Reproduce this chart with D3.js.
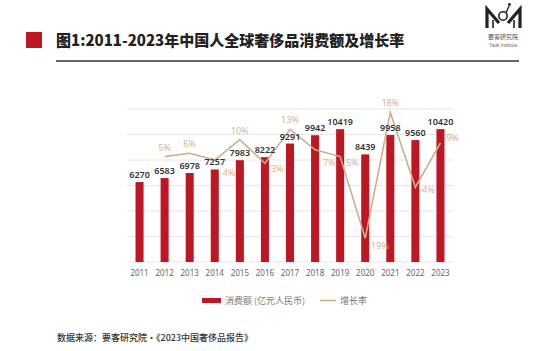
<!DOCTYPE html>
<html>
<head>
<meta charset="utf-8">
<script src="https://cdn.jsdelivr.net/npm/d3@7"></script>
<style>
  body { margin: 0; background: #fff; }
  svg { display: block; font-family: "Noto Sans CJK SC", "Noto Sans", sans-serif; }
</style>
</head>
<body>
<div id="chart"></div>
<script>
// Data
const years = ["2011", "2012", "2013", "2014", "2015", "2016", "2017", "2018", "2019", "2020", "2021", "2022", "2023"];
const spending = [6270, 6583, 6978, 7257, 7983, 8222, 9291, 9942, 10419, 8439, 9958, 9560, 10420];
const growth = [null, 5, 6, 4, 10, 3, 13, 7, 5, -19, 18, -4, 9];
const growthLabels = ["", "5%", "6%", "4%", "10%", "3%", "13%", "7%", "5%", "-19%", "18%", "-4%", "9%"];
const yTicks = [0, 2000, 4000, 6000, 8000, 10000, 12000];

// where each growth label sits relative to its point
const labelPlace = [null, "top", "top", "below", "top", "right", "top", "below", "right", "dip", "top", "side", "up"];

const barColor = "#be1622";
const lineColor = "#cfae8c";

const svg = d3.select("#chart")
  .append("svg")
  .attr("width", 550)
  .attr("height", 351);

// Title block
svg.append("rect")
  .attr("x", 26).attr("y", 32)
  .attr("width", 16).attr("height", 16)
  .attr("fill", barColor);

svg.append("text")
  .attr("x", 56).attr("y", 46)
  .attr("font-family", "'Noto Sans CJK SC', serif")
  .attr("font-size", "15px")
  .attr("font-weight", 900)
  .attr("fill", "#222")
  .text("图1:2011-2023年中国人全球奢侈品消费额及增长率");

svg.append("line")
  .attr("x1", 56).attr("x2", 519)
  .attr("y1", 61).attr("y2", 61)
  .attr("stroke", "#666")
  .attr("stroke-width", 2);

// Logo
const logo = svg.append("g").attr("fill", "none").attr("stroke", "#222");
logo.append("path")
  .attr("d", "M487,28 L487,9 L499,23 M520,28 L520,9 L508,23")
  .attr("stroke-width", 3.2)
  .attr("stroke-linejoin", "miter");
logo.append("path")
  .attr("d", "M493,28 L493,20 M514,28 L514,20")
  .attr("stroke-width", 1.6);
logo.append("circle")
  .attr("cx", 503).attr("cy", 16).attr("r", 4.2)
  .attr("stroke-width", 1.6);
logo.append("path")
  .attr("d", "M506,13 L509,6")
  .attr("stroke-width", 1.4);
logo.append("circle")
  .attr("cx", 509.5).attr("cy", 4.5).attr("r", 1.4)
  .attr("fill", "#222").attr("stroke", "none");
svg.append("text")
  .attr("x", 503).attr("y", 39)
  .attr("text-anchor", "middle")
  .attr("font-size", "6px")
  .attr("fill", "#555")
  .text("要客研究院");
svg.append("text")
  .attr("x", 503).attr("y", 47)
  .attr("text-anchor", "middle")
  .attr("font-size", "4.8px")
  .attr("font-family", "'Liberation Sans', sans-serif")
  .attr("fill", "#666")
  .text("Yaok Institute");

// Scales
const x = d3.scaleBand()
  .domain(years)
  .range([127, 453])
  .paddingInner(0.68)
  .paddingOuter(0.34);

const y = d3.scaleLinear()
  .domain([0, 12000])
  .range([262, 109]);

const y2 = d3.scaleLinear()
  .domain([-26, 19])
  .range([262, 109]);

// Gridlines
svg.append("g")
  .selectAll("line")
  .data(yTicks)
  .enter()
  .append("line")
  .attr("x1", 127).attr("x2", 453)
  .attr("y1", d => y(d)).attr("y2", d => y(d))
  .attr("stroke", "#e6e6e6")
  .attr("stroke-width", 1);

// X axis
const xAxis = svg.append("g")
  .attr("transform", "translate(0,262)")
  .call(d3.axisBottom(x).tickSize(0).tickPadding(8));
xAxis.select(".domain").remove();
xAxis.selectAll("text")
  .attr("font-family", "'Noto Sans', sans-serif")
  .attr("font-size", "8px")
  .attr("fill", "#666");

// Bars
svg.selectAll(".bar")
  .data(spending)
  .enter()
  .append("rect")
  .attr("class", "bar")
  .attr("x", (d, i) => x(years[i]))
  .attr("y", d => y(d))
  .attr("width", x.bandwidth())
  .attr("height", d => y(0) - y(d))
  .attr("fill", barColor);

// Growth line
const linePts = growth.map((g, i) => ({ year: years[i], g: g, label: growthLabels[i], place: labelPlace[i] }))
  .filter(d => d.g !== null);

const line = d3.line()
  .x(d => x(d.year) + x.bandwidth() / 2)
  .y(d => y2(d.g));

svg.append("path")
  .datum(linePts)
  .attr("d", line)
  .attr("fill", "none")
  .attr("stroke", lineColor)
  .attr("stroke-width", 1.6);

// Bar value labels
svg.selectAll(".val")
  .data(spending)
  .enter()
  .append("text")
  .attr("class", "val")
  .attr("x", (d, i) => x(years[i]) + x.bandwidth() / 2)
  .attr("y", d => y(d) - 4)
  .attr("text-anchor", "middle")
  .attr("font-family", "'Noto Sans', sans-serif")
  .attr("font-size", "9px")
  .attr("font-weight", 600)
  .attr("fill", "#333")
  .text(d => d);

// Growth labels
const off = {
  top: [0, -6, "middle"],
  below: [8, 16, "start"],
  right: [6, 9, "start"],
  dip: [3, 11, "start"],
  side: [4, 6, "start"],
  up: [6, -2, "start"]
};
svg.selectAll(".pct")
  .data(linePts)
  .enter()
  .append("text")
  .attr("class", "pct")
  .attr("x", d => x(d.year) + x.bandwidth() / 2 + off[d.place][0])
  .attr("y", d => y2(d.g) + off[d.place][1])
  .attr("text-anchor", d => off[d.place][2])
  .attr("font-family", "'Noto Sans', sans-serif")
  .attr("font-size", "9px")
  .attr("fill", "#d4b592")
  .text(d => d.label);

// Legend
svg.append("rect")
  .attr("x", 202).attr("y", 298)
  .attr("width", 19).attr("height", 5)
  .attr("fill", barColor);
svg.append("text")
  .attr("x", 225).attr("y", 303.5)
  .attr("font-size", "9px")
  .attr("fill", "#777")
  .text("消费额 (亿元人民币)");
svg.append("line")
  .attr("x1", 320).attr("x2", 336)
  .attr("y1", 300.5).attr("y2", 300.5)
  .attr("stroke", lineColor)
  .attr("stroke-width", 1.6);
svg.append("text")
  .attr("x", 340).attr("y", 303.5)
  .attr("font-size", "9px")
  .attr("fill", "#777")
  .text("增长率");

// Source note
svg.append("text")
  .attr("x", 57).attr("y", 341)
  .attr("font-size", "9px")
  .attr("font-weight", 500)
  .attr("fill", "#333")
  .text("数据来源：要客研究院·《2023中国奢侈品报告》");
</script>
</body>
</html>
